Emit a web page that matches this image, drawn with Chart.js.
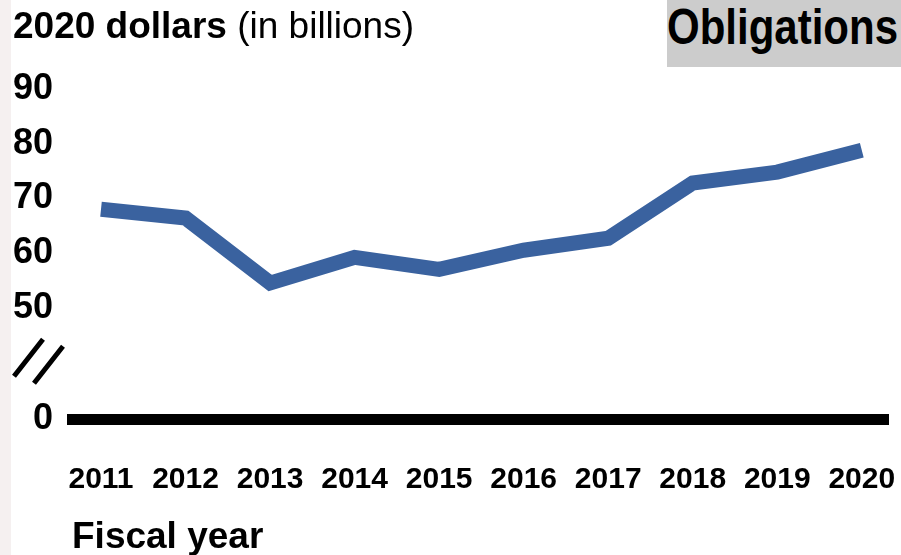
<!DOCTYPE html>
<html lang="en">
<head>
  <meta charset="UTF-8" />
  <title>Obligations - 2020 dollars</title>
  <script src="https://cdn.jsdelivr.net/npm/chart.js"></script>
  <style>
    body { margin: 0; background: #fff; }
    #wrap { position: relative; width: 901px; height: 555px; overflow: hidden; }
    #edge { position: absolute; left: 0; top: 0; width: 11px; height: 555px; background: #f5f0f0; }
    #chart { position: absolute; left: 0; top: 0; }
    #unit {
      position: absolute; left: 13px; top: 7px;
      font: 37px/37px "Liberation Sans", Arial, sans-serif; color: #000; white-space: nowrap;
    }
    #unit b { font-weight: bold; }
    #panel {
      position: absolute; left: 667px; top: 0; width: 234px; height: 67px; background: #cccccc;
    }
    #panel span {
      position: absolute; left: 0; top: 3px;
      font: bold 42px/42px "Liberation Sans", Arial, sans-serif;
      color: #000; white-space: nowrap;
      transform: scaleY(1.17); transform-origin: 0 0;
    }
  </style>
</head>
<body>
  <div id="wrap">
    <div id="edge"></div>
    <canvas id="chart" width="901" height="555"></canvas>
    <div id="unit"><b>2020 dollars</b> (in billions)</div>
    <div id="panel"><span>Obligations</span></div>
  </div>

  <script>
  // data
  const years = [2011, 2012, 2013, 2014, 2015, 2016, 2017, 2018, 2019, 2020];
  const obligations = [68.0, 66.4, 54.5, 59.2, 57.0, 60.5, 62.7, 72.8, 74.8, 78.8];

  // y axis ticks, the axis is broken between 0 and 50
  const yTicks = [50, 60, 70, 80, 90];
  const zeroLabel = '0';
  const yBreak = 29.63; // value where the "0" baseline sits

  const sans = "'Liberation Sans', Arial, sans-serif";

  // the two slashes that mark the axis break
  const breakMarks = {
    id: 'breakMarks',
    afterDraw(chart) {
      const c = chart.ctx;
      const y = chart.scales.y;
      const mid = (y.getPixelForValue(50) + y.bottom) / 2;
      c.save();
      c.strokeStyle = '#000';
      c.lineWidth = 5;
      c.beginPath();
      c.moveTo(14, mid + 13); c.lineTo(43, mid - 24);
      c.moveTo(34, mid + 20); c.lineTo(63, mid - 17);
      c.stroke();
      c.restore();
    }
  };

  const ctx = document.getElementById('chart').getContext('2d');

  new Chart(ctx, {
    type: 'line',
    data: {
      datasets: [{
        label: 'Obligations',
        data: years.map((yr, i) => ({ x: yr, y: obligations[i] })),
        borderColor: '#3a629f',
        borderWidth: 15,
        borderCapStyle: 'butt',
        borderJoinStyle: 'miter',
        pointRadius: 0,
        tension: 0,
        clip: false
      }]
    },
    options: {
      responsive: false,
      animation: false,
      devicePixelRatio: 1,
      layout: { padding: { top: 89, right: 13, left: 0, bottom: 0 } },
      plugins: {
        legend: { display: false },
        tooltip: { enabled: false }
      },
      scales: {
        x: {
          type: 'linear',
          min: 2010.657,
          max: 2020.31,
          afterBuildTicks: s => { s.ticks = years.map(v => ({ value: v })); },
          afterFit: s => { s.height = 136; s.paddingLeft = 0; s.paddingRight = 0; },
          ticks: {
            callback: v => String(v),
            autoSkip: false,
            maxRotation: 0,
            padding: 43,
            color: '#000',
            font: { family: sans, weight: 'bold', size: 30 }
          },
          grid: { display: false, drawTicks: false },
          border: { display: true, color: '#000', width: 11 },
          title: {
            display: true,
            text: 'Fiscal year',
            align: 'start',
            color: '#000',
            font: { family: sans, weight: 'bold', size: 37 },
            padding: { top: 0, bottom: -5 }
          }
        },
        y: {
          min: yBreak,
          max: 90,
          afterBuildTicks: s => { s.ticks = [yBreak, ...yTicks].map(v => ({ value: v })); },
          afterFit: s => { s.width = 72; },
          ticks: {
            callback: v => (v === yBreak ? zeroLabel : String(v)),
            padding: 19,
            color: '#000',
            font: { family: sans, weight: 'bold', size: 36 }
          },
          grid: { display: false, drawTicks: false },
          border: { display: false }
        }
      }
    },
    plugins: [breakMarks]
  });
  </script>
</body>
</html>
